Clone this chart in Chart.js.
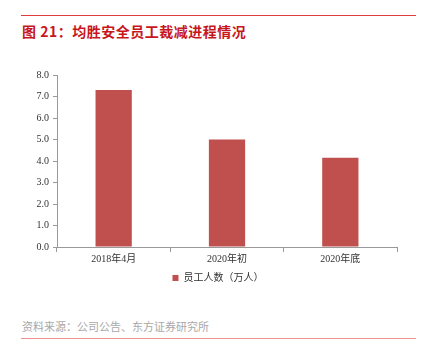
<!DOCTYPE html>
<html><head><meta charset="utf-8">
<script src="https://cdn.jsdelivr.net/npm/chart.js@4"></script>
<style>
html,body{margin:0;padding:0;background:#fff;width:426px;height:355px;overflow:hidden;position:relative;font-family:"Noto Sans CJK SC","Noto Sans",sans-serif}
#topline{position:absolute;left:21px;top:15px;width:395px;height:1px;background:#e03c3c}
#title{position:absolute;left:22px;top:21px;font-size:14px;font-weight:bold;color:#c8161d;letter-spacing:0.5px;white-space:nowrap}
#wrap{position:absolute;left:0;top:60px;width:426px;height:233px}
#src{position:absolute;left:22px;top:318px;font-size:11px;color:#a8a8a8;white-space:nowrap}
#botline{position:absolute;left:21px;top:338px;width:395px;height:1px;background:#ee9090}
</style></head>
<body>
<div id="topline"></div>
<div id="title">图 21：均胜安全员工裁减进程情况</div>
<div id="wrap"><canvas id="c" width="426" height="233"></canvas></div>
<div id="src">资料来源：公司公告、东方证券研究所</div>
<div id="botline"></div>
<script>
const categories = ["2018年4月", "2020年初", "2020年底"];
const seriesName = "员工人数（万人）";
const employees = [7.3, 5.0, 4.15];
const yTicks = [0, 1, 2, 3, 4, 5, 6, 7, 8];

const legendShift = {
  id: 'legendShift',
  afterLayout(chart) {
    const lg = chart.legend;
    if (lg) { lg.left = 0; lg.right = 436; lg.width = 436; }
  }
};

new Chart(document.getElementById('c'), {
  type: 'bar',
  data: {
    labels: categories,
    datasets: [{
      label: seriesName,
      data: employees,
      backgroundColor: '#c0504d',
      categoryPercentage: 1.0,
      barPercentage: 0.32
    }]
  },
  plugins: [legendShift],
  options: {
    responsive: false,
    animation: false,
    devicePixelRatio: 1,
    layout: { padding: { top: 15, right: 29, left: 0, bottom: 0 } },
    plugins: {
      tooltip: { enabled: false },
      legend: {
        position: 'bottom',
        labels: {
          boxWidth: 6, boxHeight: 6, padding: 8,
          color: '#333',
          font: { family: '"Liberation Serif","Noto Sans CJK SC",serif', size: 10 }
        }
      }
    },
    scales: {
      x: {
        grid: { display: true, drawOnChartArea: false, offset: true, color: '#999', tickLength: 5 },
        border: { color: '#999' },
        ticks: { color: '#333', padding: 1, font: { family: '"Liberation Serif","Noto Sans CJK SC",serif', size: 10 } },
        afterFit(s) { s.height = 18; }
      },
      y: {
        min: 0, max: 8,
        afterBuildTicks(s) { s.ticks = yTicks.map(v => ({ value: v })); },
        grid: { display: true, drawOnChartArea: false, color: '#999', tickLength: 4 },
        border: { color: '#999' },
        ticks: {
          color: '#333', padding: 4,
          font: { family: '"Liberation Serif",serif', size: 10 },
          callback: v => Number(v).toFixed(1)
        },
        afterFit(s) { s.width = 57; }
      }
    }
  }
});
</script>
</body></html>
